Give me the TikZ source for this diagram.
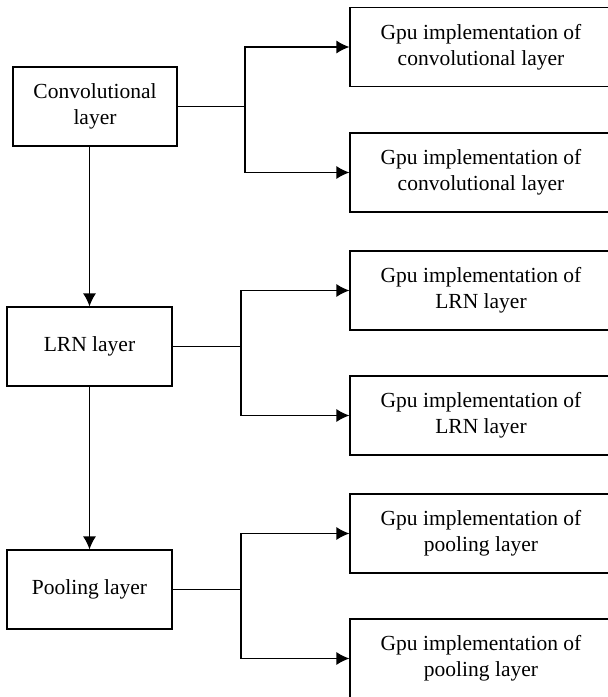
\documentclass[tikz,border=0pt]{standalone}
\usepackage{fontspec}
\setmainfont{Liberation Serif}
\usepackage{tikz}
\usetikzlibrary{arrows.meta, positioning, calc}

\tikzset{
  layerbox/.style={draw, line width=1.2pt, minimum width=165pt, minimum height=79pt,
    align=center, font=\fontsize{21.5}{26}\selectfont},
  gpubox/.style={layerbox, minimum width=262pt},
  flow/.style={line width=1.2pt, -{Latex[length=13pt,width=13pt]}},
  branch/.style={line width=1.2pt}
}

\begin{document}
\begin{tikzpicture}[x=1pt,y=-1pt]
  \clip (0,0) rectangle (608,697);

  % layers on the left
  \node[layerbox, minimum width=164pt] (conv) at (95,106.5) {Convolutional\\layer};
  \node[layerbox] (lrn) at (89.5,346.5) {LRN layer};
  \node[layerbox] (pool) at (89.5,589.5) {Pooling layer};

  % gpu implementations on the right
  \node[gpubox] (gconv1) at (481,47) {Gpu implementation of\\convolutional layer};
  \node[gpubox] (gconv2) at (481,172.5) {Gpu implementation of\\convolutional layer};
  \node[gpubox] (glrn1) at (481,290.5) {Gpu implementation of\\LRN layer};
  \node[gpubox] (glrn2) at (481,415.5) {Gpu implementation of\\LRN layer};
  \node[gpubox] (gpool1) at (481,533.5) {Gpu implementation of\\pooling layer};
  \node[gpubox] (gpool2) at (481,658.5) {Gpu implementation of\\pooling layer};

  % main flow
  \draw[flow] (conv.south -| lrn.north) -- (lrn.north);
  \draw[flow] (lrn.south) -- (pool.north);

  % branches
  \coordinate (jconv) at (245,106.5);
  \coordinate (jlrn) at (241,346.5);
  \coordinate (jpool) at (241,589.5);

  \draw[branch] (conv.east) -- (jconv);
  \draw[flow] (jconv) |- (gconv1.west);
  \draw[flow] (jconv) |- (gconv2.west);

  \draw[branch] (lrn.east) -- (jlrn);
  \draw[flow] (jlrn) |- (glrn1.west);
  \draw[flow] (jlrn) |- (glrn2.west);

  \draw[branch] (pool.east) -- (jpool);
  \draw[flow] (jpool) |- (gpool1.west);
  \draw[flow] (jpool) |- (gpool2.west);
\end{tikzpicture}
\end{document}
